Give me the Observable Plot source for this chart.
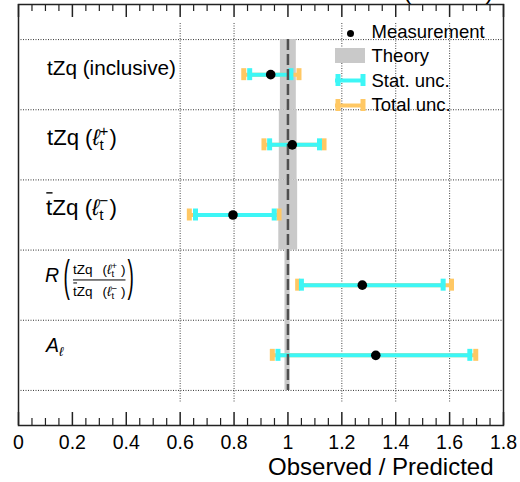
<!DOCTYPE html>
<html><head><meta charset="utf-8">
<script src="https://cdn.jsdelivr.net/npm/d3@7"></script>
<script src="https://cdn.jsdelivr.net/npm/@observablehq/plot@0.6"></script>
<style>
html,body{margin:0;padding:0;background:#fff;}
svg{display:block;}
</style></head><body><div id="chart"></div>
<script>
// ---- data ----
const rowIndex  = [1, 2, 3, 4, 5];
const rowNames  = ["tZq (inclusive)", "tZq (l+)", "tbarZq (l-)", "R", "A_l"];
const measured  = [0.936, 1.016, 0.796, 1.276, 1.326];
const statLo    = [0.858, 0.932, 0.657, 1.050, 0.963];
const statHi    = [1.011, 1.117, 0.949, 1.576, 1.675];
const totalLo   = [0.836, 0.911, 0.634, 1.036, 0.942];
const totalHi   = [1.041, 1.134, 0.967, 1.607, 1.697];
const theoryLo  = [0.972, 0.968, 0.966, 0.989, 0.989];
const theoryHi  = [1.031, 1.034, 1.036, 1.008, 1.008];
const xTickVals = [0, 0.2, 0.4, 0.6, 0.8, 1, 1.2, 1.4, 1.6, 1.8];
const xGridVals = [0.6, 0.8, 1.2, 1.4, 1.6];
const rowEdges  = [0.5, 1.5, 2.5, 3.5, 4.5, 5.5];
const legendLabels = ["Measurement", "Theory", "Stat. unc.", "Total unc."];
const xTitle = "Observed / Predicted";
const topRightText = "138 fb\u207B\u00B9 (13 TeV)";

// ---- layout ----
const FONT = '"Liberation Sans", Arial, Helvetica, sans-serif';
const W = 520, H = 482, M = {l: 18, r: 17, t: 4, b: 57};
const XD = [0, 1.8], YD = [0, 6];
const ix = px => (px - M.l) / (W - M.l - M.r) * (XD[1] - XD[0]);
const iy = py => (py - M.t) / (H - M.t - M.b) * (YD[1] - YD[0]);
const dyu = p => p / (H - M.t - M.b) * (YD[1] - YD[0]); // pixel length -> y units

const CYAN = "#3df6f6", ORANGE = "#ffc864", BAND = "#c9c9c9", DASH = "#505050";

const rows = rowIndex.map((r, i) => ({
  row: r, name: rowNames[i], m: measured[i],
  sLo: statLo[i], sHi: statHi[i], tLo: totalLo[i], tHi: totalHi[i],
  thLo: theoryLo[i], thHi: theoryHi[i]
}));
const capH = dyu(6);
const totalCaps = rows.flatMap(d => [{x: d.tLo, row: d.row}, {x: d.tHi, row: d.row}]);
const statCaps  = rows.flatMap(d => [{x: d.sLo, row: d.row}, {x: d.sHi, row: d.row}]);

const minorTicks = d3.range(0, 1.8001, 0.05).filter(v => Math.abs(v / 0.2 - Math.round(v / 0.2)) > 1e-6);
const majLen = dyu(13), minLen = dyu(7);

// legend geometry (pixels)
const LG = {x0: 335, x1: 365, tx: 371, dotY: 33, boxY0: 48, boxY1: 63, statY: 80, totY: 105,
            base: [37, 61, 86, 110], fs: 18.5};

const plot = Plot.plot({
  width: W, height: H,
  marginLeft: M.l, marginRight: M.r, marginTop: M.t, marginBottom: M.b,
  x: {domain: XD, range: [M.l, W - M.r], axis: null},
  y: {domain: YD, range: [M.t, H - M.b], axis: null},
  style: {fontFamily: FONT, background: "white", overflow: "visible"},
  marks: [
    // grid
    Plot.ruleY(rowEdges, {stroke: "#333", strokeWidth: 1, strokeDasharray: "1,1.5"}),
    Plot.ruleX(xGridVals, {y1: dyu(19), y2: 6 - dyu(22), stroke: "#444", strokeWidth: 1, strokeDasharray: "1,1.5"}),
    // theory bands
    Plot.rect(rows, {x1: "thLo", x2: "thHi", y1: d => d.row - 0.5, y2: d => d.row + 0.5, fill: BAND}),
    // total uncertainty
    Plot.ruleY(rows, {y: "row", x1: "tLo", x2: "tHi", stroke: ORANGE, strokeWidth: 4}),
    Plot.ruleX(totalCaps, {x: "x", y1: d => d.row - capH, y2: d => d.row + capH, stroke: ORANGE, strokeWidth: 5}),
    // stat uncertainty
    Plot.ruleY(rows, {y: "row", x1: "sLo", x2: "sHi", stroke: CYAN, strokeWidth: 4}),
    Plot.ruleX(statCaps, {x: "x", y1: d => d.row - capH, y2: d => d.row + capH, stroke: CYAN, strokeWidth: 5}),
    // SM reference line
    Plot.ruleX([1], {y1: 0.5, y2: 5.5, stroke: DASH, strokeWidth: 2.5, strokeDasharray: "11,4"}),
    // measurements
    Plot.dot(rows, {x: "m", y: "row", r: 4.8, fill: "black", stroke: "none"}),
    // frame and ticks
    Plot.frame({stroke: "#222", strokeWidth: 1.5}),
    Plot.ruleX(xTickVals, {y1: 6 - majLen, y2: 6, stroke: "#222", strokeWidth: 1.5}),
    Plot.ruleX(xTickVals, {y1: 0, y2: majLen, stroke: "#222", strokeWidth: 1.5}),
    Plot.ruleX(minorTicks, {y1: 6 - minLen, y2: 6, stroke: "#222", strokeWidth: 1.2}),
    Plot.ruleX(minorTicks, {y1: 0, y2: minLen, stroke: "#222", strokeWidth: 1.2}),
    // tick labels and axis title
    Plot.text(xTickVals, {x: d => d, frameAnchor: "bottom", lineAnchor: "middle", dy: 17, text: d => String(d), fontSize: 19.5, fill: "black"}),
    Plot.text([xTitle], {frameAnchor: "bottom-right", lineAnchor: "middle", textAnchor: "end", dx: -10, dy: 42.3, fontSize: 24, fill: "black"}),
    Plot.text([topRightText], {frameAnchor: "top-right", lineAnchor: "middle", textAnchor: "end", dx: -10, dy: -13.4, fontSize: 24, fill: "black"}),
    // legend
    Plot.dot([0], {x: () => ix(350), y: () => iy(LG.dotY), r: 3.5, fill: "black", stroke: "none"}),
    Plot.rect([0], {x1: () => ix(LG.x0), x2: () => ix(LG.x1), y1: () => iy(LG.boxY0), y2: () => iy(LG.boxY1), fill: BAND}),
    Plot.ruleY([0], {y: () => iy(LG.statY), x1: () => ix(LG.x0), x2: () => ix(LG.x1), stroke: CYAN, strokeWidth: 4}),
    Plot.ruleX([LG.x0 + 2.5, LG.x1 - 2.5], {x: d => ix(d), y1: () => iy(LG.statY - 6), y2: () => iy(LG.statY + 6), stroke: CYAN, strokeWidth: 5}),
    Plot.ruleY([0], {y: () => iy(LG.totY), x1: () => ix(LG.x0), x2: () => ix(LG.x1), stroke: ORANGE, strokeWidth: 4}),
    Plot.ruleX([LG.x0 + 2.5, LG.x1 - 2.5], {x: d => ix(d), y1: () => iy(LG.totY - 6), y2: () => iy(LG.totY + 6), stroke: ORANGE, strokeWidth: 5}),
    Plot.text(legendLabels, {x: () => ix(LG.tx), y: (d, i) => iy(LG.base[i] - 0.32 * LG.fs), text: d => d,
      textAnchor: "start", fontSize: LG.fs, fill: "black"})
  ]
});
document.getElementById("chart").appendChild(plot);

// ---- rich row labels (math-like), placed with the plot's y scale ----
const yS = plot.scale("y");
const svg = d3.select(plot);
const g = svg.append("g").attr("font-family", FONT).attr("fill", "black").attr("text-anchor", "start");

function drawOne(parent, x, y, r, k) {
  const s = r.s * k, b = (r.b || 0) * k;
  const t = parent.append("text").attr("x", x).attr("y", y + b).attr("font-size", s).text(r.t);
  if (r.i) t.attr("font-style", "italic");
  const w = t.node().getComputedTextLength();
  if (r.o) {
    const oy = y + b - s * 1.0;
    parent.append("line").attr("x1", x + 0.3).attr("x2", x + w + 0.3).attr("y1", oy).attr("y2", oy)
      .attr("stroke", "black").attr("stroke-width", Math.max(1, s / 16));
  }
  return w;
}
function drawRuns(parent, x0, y0, runs, k = 1) {
  let x = x0;
  for (const r of runs) {
    if (r.gap) { x += r.gap * k; continue; }
    if (r.stack) { let w = 0; for (const s of r.stack) w = Math.max(w, drawOne(parent, x, y0, s, k)); x += w; continue; }
    x += drawOne(parent, x, y0, r, k);
  }
  return x - x0;
}
// draw runs scaled so the label's width matches a target width
function fitRuns(x0, y0, runs, target) {
  const tmp = g.append("g");
  const w = drawRuns(tmp, x0, y0, runs, 1);
  tmp.remove();
  const k = target / w;
  return drawRuns(g, x0, y0, runs, k);
}
const FS = 19, SS = 13;
const lx = 47;
// row 1
fitRuns(lx, yS.apply(1) + 0.8, [{t: "tZq (inclusive)", s: FS}], 129);
// row 2
fitRuns(lx, yS.apply(2) + 0.8, [{t: "tZq (", s: FS}, {t: "\u2113", s: FS, i: true},
  {stack: [{t: "+", s: SS, b: -8}, {t: "t", s: SS, b: 4}]}, {gap: 1}, {t: ")", s: FS}], 70);
// row 3
fitRuns(lx - 1, yS.apply(3) + 0.8, [{t: "t", s: FS, o: true}, {t: "Zq (", s: FS}, {t: "\u2113", s: FS, i: true},
  {stack: [{t: "\u2212", s: SS, b: -8}, {t: "t", s: SS, b: 4}]}, {gap: 1}, {t: ")", s: FS}], 71);
// row 4: ratio
{
  const yc = yS.apply(4);
  const fl = yc - 4.7;           // fraction line
  drawRuns(g, 45, yc - 2.8, [{t: "R", s: 19.5, i: true}]);
  const bigParen = (x, ch) => g.append("g").attr("transform", `translate(${x},${fl}) scale(1,2.3)`)
      .append("text").attr("y", 0.26 * 19).attr("font-size", 19).text(ch);
  bigParen(63.5, "(");
  const nx = 73, ns = 13.5, nss = 9.5;
  const numRuns = [{t: "tZq", s: ns}, {gap: 10}, {t: "(", s: ns}, {t: "\u2113", s: ns, i: true},
    {stack: [{t: "+", s: nss, b: -4.8}, {t: "t", s: nss, b: 2.8}]}, {gap: 4}, {t: ")", s: ns}];
  const denRuns = [{t: "t", s: ns, o: true}, {t: "Zq", s: ns}, {gap: 10}, {t: "(", s: ns}, {t: "\u2113", s: ns, i: true},
    {stack: [{t: "\u2212", s: nss, b: -4.8}, {t: "t", s: nss, b: 2.8}]}, {gap: 4}, {t: ")", s: ns}];
  const wN = drawRuns(g, nx, fl - 6, numRuns);
  const wD = drawRuns(g, nx, fl + 16.5, denRuns);
  const fw = Math.max(wN, wD);
  g.append("line").attr("x1", nx).attr("x2", nx + fw).attr("y1", fl).attr("y2", fl)
    .attr("stroke", "black").attr("stroke-width", 1);
  bigParen(nx + fw + 2, ")");
}
// row 5
drawRuns(g, 46, yS.apply(5) - 2.5, [{t: "A", s: 19.5, i: true}, {t: "\u2113", s: 13, i: true, b: 4}]);
</script>
</body></html>
